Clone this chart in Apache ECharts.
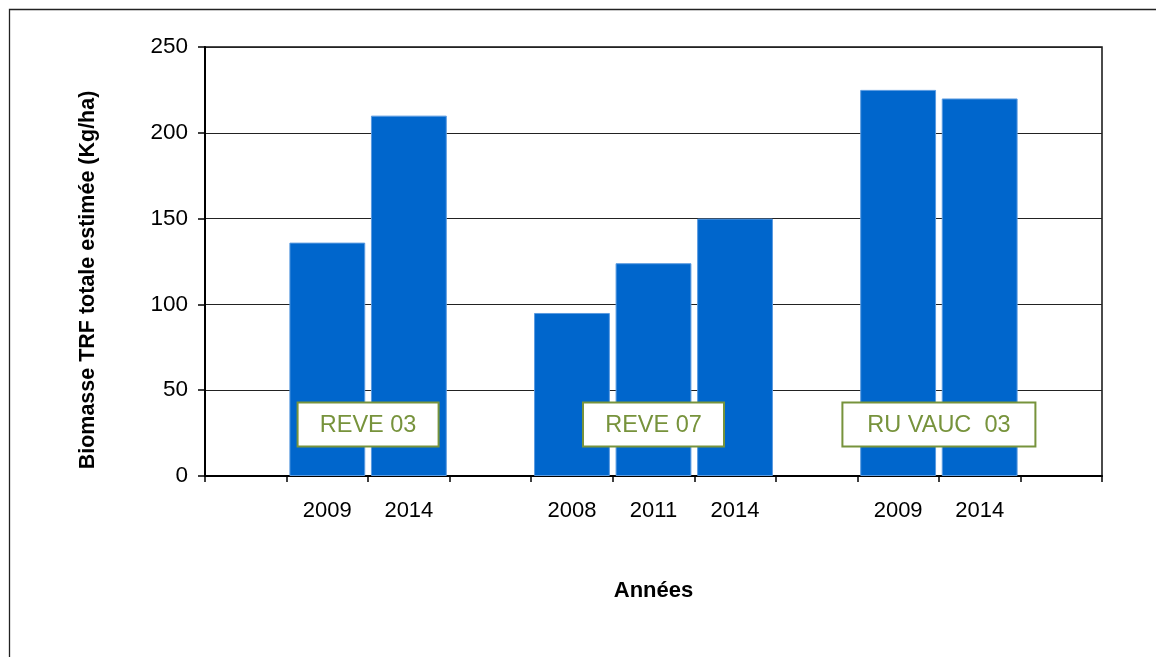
<!DOCTYPE html>
<html>
<head>
<meta charset="utf-8">
<script src="https://cdn.jsdelivr.net/npm/echarts@6/dist/echarts.min.js"></script>
<style>
  html, body { margin: 0; padding: 0; background: #fff; }
  #main { width: 1156px; height: 657px; }
</style>
</head>
<body>
<div id="main"></div>
<script>
// données
const years = ["", "2009", "2014", "", "2008", "2011", "2014", "", "2009", "2014", ""];
const biomasse = ["-", 136, 210, "-", 95, 124, 150, "-", 225, 220, "-"];
const yTicks = [0, 50, 100, 150, 200, 250];
// étiquettes des stations et leur place (indices de catégories, valeur y)
const stations = ["REVE 03", "REVE 07", "RU VAUC  03"];
const stationSpan = [[1, 2], [4, 6], [8, 9]];
const stationLevel = [30, 30, 30];

const font = "Liberation Sans, Arial, sans-serif";
const green = "#77933C";
const boxWidth = [141, 141, 193];

const chart = echarts.init(document.getElementById("main"));
chart.setOption({
  animation: false,
  backgroundColor: "#fff",
  grid: {
    left: 205,
    right: 54,
    top: 47,
    bottom: 181,
    show: true,
    borderColor: "#111",
    borderWidth: 1.5,
  },
  xAxis: {
    type: "category",
    data: years,
    name: "Années",
    nameLocation: "middle",
    nameGap: 104,
    nameTextStyle: { fontFamily: font, fontSize: 22, fontWeight: "bold", color: "#000" },
    axisLine: { lineStyle: { color: "#000", width: 2 } },
    axisTick: { show: true, length: 6, lineStyle: { color: "#000", width: 1.5 } },
    axisLabel: { interval: 0, margin: 24, fontFamily: font, fontSize: 22, color: "#000" },
    splitLine: { show: false },
  },
  yAxis: {
    type: "value",
    min: yTicks[0],
    max: yTicks[yTicks.length - 1],
    interval: 50,
    axisLine: { show: true, lineStyle: { color: "#000", width: 2 } },
    axisTick: { show: true, length: 7, lineStyle: { color: "#000", width: 1.5 } },
    axisLabel: { margin: 17, fontFamily: font, fontSize: 22.5, color: "#000" },
    splitLine: { show: true, lineStyle: { color: "#222", width: 1.2 } },
  },
  series: [
    {
      type: "bar",
      data: biomasse,
      barCategoryGap: "7%",
      itemStyle: { color: "#0066CC", borderColor: "#5B9BE0", borderWidth: 1 },
    },
  ],
});

// cadres des stations + titre de l'axe y + cadre extérieur
const graphics = [
  {
    type: "rect",
    shape: { x: 9.5, y: 9.5, width: 1300, height: 800 },
    style: { fill: "none", stroke: "#222", lineWidth: 1.3 },
    silent: true,
  },
  {
    type: "text",
    x: 88,
    y: 280,
    rotation: Math.PI / 2,
    style: {
      text: "Biomasse TRF totale estimée (Kg/ha)",
      font: "bold 21.5px " + font,
      fill: "#000",
      align: "center",
      verticalAlign: "middle",
      textAlign: "center",
      textVerticalAlign: "middle",
    },
  },
];
stations.forEach((name, i) => {
  const [a, b] = stationSpan[i];
  const xa = chart.convertToPixel({ xAxisIndex: 0 }, a);
  const xb = chart.convertToPixel({ xAxisIndex: 0 }, b);
  const cx = (xa + xb) / 2;
  const cy = chart.convertToPixel({ yAxisIndex: 0 }, stationLevel[i]);
  const w = boxWidth[i];
  const h = 44;
  graphics.push({
    type: "group",
    z: 100,
    children: [
      {
        type: "rect",
        z: 100,
        shape: { x: cx - w / 2, y: cy - h / 2, width: w, height: h },
        style: { fill: "#fff", stroke: green, lineWidth: 2 },
      },
      {
        type: "text",
        z: 101,
        x: cx,
        y: cy + 1,
        style: {
          text: name,
          font: "23.5px " + font,
          fill: green,
          align: "center",
          verticalAlign: "middle",
          textAlign: "center",
          textVerticalAlign: "middle",
        },
      },
    ],
  });
});
chart.setOption({ graphic: graphics });
</script>
</body>
</html>
